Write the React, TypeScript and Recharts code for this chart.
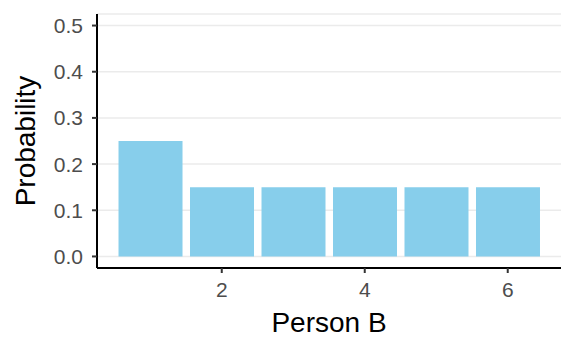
import React from 'react'
import { BarChart, Bar, XAxis, YAxis, CartesianGrid } from 'recharts'

const persons = [1, 2, 3, 4, 5, 6]
const probabilities = [0.25, 0.15, 0.15, 0.15, 0.15, 0.15]
const xTicks = [2, 4, 6]
const yTicks = [0, 0.1, 0.2, 0.3, 0.4, 0.5]

const data = persons.map((p, i) => ({ person: p, prob: probabilities[i] }))

const FONT = '"Liberation Sans", Arial, sans-serif'

const AxisTick = ({ x, y, payload, textAnchor, vertical }: any) => {
  const label = vertical ? payload.value.toFixed(1) : String(payload.value)
  return (
    <text
      x={x}
      y={y}
      dy={vertical ? '0.36em' : '0.72em'}
      textAnchor={textAnchor}
      fill="#4d4d4d"
      fontSize={21}
      fontFamily={FONT}
    >
      {label}
    </text>
  )
}

const YTitle = ({ viewBox }: any) => {
  const cy = viewBox.y + viewBox.height / 2
  return (
    <text
      x={35}
      y={cy}
      transform={`rotate(-90, 35, ${cy})`}
      textAnchor="middle"
      fill="#000"
      fontSize={28}
      fontFamily={FONT}
    >
      Probability
    </text>
  )
}

export default function App() {
  return (
    <div style={{ position: 'fixed', left: 0, top: 0, background: '#fff' }}>
      <BarChart
        width={576}
        height={355}
        data={data}
        margin={{ top: 14, right: 15, bottom: 0, left: 0 }}
      >
        <CartesianGrid
          vertical={false}
          stroke="#ebebeb"
          strokeWidth={1.5}
        />
        <XAxis
          dataKey="person"
          type="number"
          domain={[0.255, 6.745]}
          ticks={xTicks}
          allowDataOverflow
          height={87}
          tickSize={5}
          tickMargin={9}
          tick={<AxisTick />}
          axisLine={{ stroke: '#000', strokeWidth: 2 }}
          tickLine={{ stroke: '#333', strokeWidth: 2 }}
          label={{
            value: 'Person B',
            position: 'insideBottom',
            offset: 23,
            fill: '#000',
            fontSize: 28,
            fontFamily: FONT,
          }}
        />
        <YAxis
          type="number"
          domain={[-0.025, 0.525]}
          ticks={yTicks}
          allowDataOverflow
          width={97}
          tickSize={5}
          tickMargin={9}
          tick={<AxisTick vertical />}
          axisLine={{ stroke: '#000', strokeWidth: 2 }}
          tickLine={{ stroke: '#333', strokeWidth: 2 }}
          label={{ content: YTitle }}
        />
        <Bar
          dataKey="prob"
          fill="#87ceeb"
          barSize={64}
          isAnimationActive={false}
        />
      </BarChart>
    </div>
  )
}
